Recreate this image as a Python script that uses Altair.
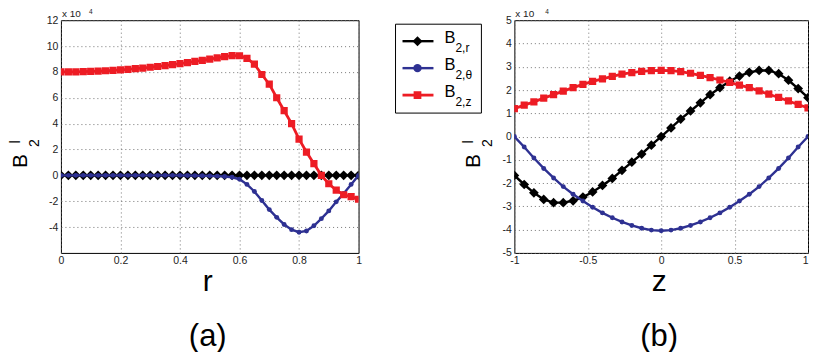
import altair as alt
import pandas as pd

FONT = "Liberation Sans"

# ---------------- data: panel (a) ----------------
r_vals = [0.0, 0.025, 0.05, 0.075, 0.1, 0.125, 0.15, 0.175, 0.2, 0.225, 0.25,
          0.275, 0.3, 0.325, 0.35, 0.375, 0.4, 0.425, 0.45, 0.475, 0.5, 0.525,
          0.55, 0.575, 0.6, 0.625, 0.65, 0.675, 0.7, 0.725, 0.75, 0.775, 0.8,
          0.825, 0.85, 0.875, 0.9, 0.925, 0.95, 0.975, 1.0]
a_B2r = [0.0, 0.0, 0.0, 0.0, 0.0, 0.0, 0.0, 0.0, 0.0, 0.0, 0.0,
         0.0, 0.0, 0.0, 0.0, 0.0, 0.0, 0.0, 0.0, 0.0, 0.0, 0.0,
         0.0, 0.0, 0.0, 0.0, 0.0, 0.0, 0.0, 0.0, 0.0, 0.0, 0.0,
         0.0, 0.0, 0.0, 0.0, 0.0, 0.0, 0.0, 0.0]
a_B2t = [0.0, 0.0, 0.0, 0.0, 0.0, 0.0, 0.0, 0.0, 0.0, 0.0, 0.0,
         0.0, 0.0, 0.0, 0.0, 0.0, 0.0, -0.01, -0.02, -0.03, -0.04, -0.06,
         -0.09, -0.15, -0.3, -0.7, -1.25, -1.95, -2.65, -3.25, -3.8, -4.2, -4.4,
         -4.3, -3.9, -3.35, -2.75, -2.05, -1.4, -0.7, 0.0]
a_B2z = [8.00, 8.00, 8.01, 8.02, 8.04, 8.06, 8.09, 8.12, 8.16, 8.20, 8.25,
         8.30, 8.36, 8.42, 8.49, 8.56, 8.64, 8.72, 8.81, 8.90, 8.99, 9.09,
         9.18, 9.26, 9.25, 9.05, 8.60, 7.80, 7.05, 6.00, 5.00, 4.00, 2.80,
         1.80, 0.90, 0.00, -0.65, -1.15, -1.50, -1.65, -1.85]
a_xticks = [0, 0.2, 0.4, 0.6, 0.8, 1]
a_yticks = [-4, -2, 0, 2, 4, 6, 8, 10, 12]

# ---------------- data: panel (b) ----------------
z_vals = [-1.0, -0.933, -0.867, -0.8, -0.733, -0.667, -0.6, -0.533, -0.467, -0.4,
          -0.333, -0.267, -0.2, -0.133, -0.067, 0.0, 0.067, 0.133, 0.2, 0.267,
          0.333, 0.4, 0.467, 0.533, 0.6, 0.667, 0.733, 0.8, 0.867, 0.933, 1.0]
b_B2r = [-1.67, -2.06, -2.42, -2.70, -2.84, -2.84, -2.76, -2.60, -2.38, -2.10,
         -1.80, -1.45, -1.10, -0.75, -0.37, 0.0, 0.37, 0.75, 1.10, 1.45,
         1.80, 2.10, 2.38, 2.60, 2.76, 2.84, 2.84, 2.70, 2.42, 2.06, 1.67]
b_B2t = [0.0, -0.45, -0.92, -1.37, -1.78, -2.15, -2.48, -2.77, -3.04, -3.28,
         -3.49, -3.67, -3.82, -3.94, -4.02, -4.05, -4.02, -3.94, -3.82, -3.67,
         -3.49, -3.28, -3.04, -2.77, -2.48, -2.15, -1.78, -1.37, -0.92, -0.45, 0.0]
b_B2z = [1.20, 1.35, 1.49, 1.65, 1.80, 1.95, 2.10, 2.24, 2.37, 2.48,
         2.59, 2.68, 2.75, 2.80, 2.83, 2.84, 2.83, 2.79, 2.72, 2.63,
         2.53, 2.43, 2.33, 2.21, 2.10, 1.96, 1.82, 1.68, 1.53, 1.38, 1.23]
b_xticks = [-1, -0.5, 0, 0.5, 1]
b_yticks = [-5, -4, -3, -2, -1, 0, 1, 2, 3, 4, 5]

series_keys = ["B2r", "B2t", "B2z"]
legend_subs = ["2,r", "2,θ", "2,z"]

BLACK = "#000000"
BLUE = "#2e3192"
RED = "#ed1c24"
# key, color, shape, size(plot), size(legend), line width
STYLES = [
    ("B2r", BLACK, "diamond", 95, 100, 2.4),
    ("B2t", BLUE, "circle", 24, 70, 2.4),
    ("B2z", RED, "square", 52, 60, 2.8),
]

H = 233
one = pd.DataFrame({"k": [0]})


def txt(s, x, y, size, angle=0, align="left", baseline="alphabetic", color="#000"):
    kw = dict(text=s, font=FONT, fontSize=size, align=align, baseline=baseline, color=color)
    if angle:
        kw["angle"] = angle
    return alt.Chart(one).mark_text(**kw).encode(x=alt.value(x), y=alt.value(y))


def axis(vals, flush_last=None):
    kw = dict(values=vals, title=None, grid=True, ticks=False, domain=False,
              labelExpr="'' + datum.value", labelFont=FONT, labelFontSize=10.5,
              labelColor="#222", labelPadding=3, gridDash=[1, 3],
              gridColor="#666", gridWidth=0.9, labelFlush=False, labelOverlap=False)
    if flush_last is not None:
        kw["labelAlign"] = {"condition": {"test": "datum.value == %s" % flush_last,
                                          "value": "right"}, "value": "center"}
    return alt.Axis(**kw)


def panel(xs, data, xdom, xticks, ydom, yticks, xtitle, tag, exp_x, w, flush_last=None):
    rows = []
    for key, vals in zip(series_keys, data):
        for xv, yv in zip(xs, vals):
            rows.append({"x": xv, "y": yv, "s": key})
    df = pd.DataFrame(rows)
    X = alt.X("x:Q", scale=alt.Scale(domain=xdom, nice=False, zero=False),
              axis=axis(xticks, flush_last))
    Y = alt.Y("y:Q", scale=alt.Scale(domain=ydom, nice=False, zero=False), axis=axis(yticks))
    layers = []
    for key, color, shape, size, _, sw in STYLES:
        base = alt.Chart(df).transform_filter(alt.datum.s == key)
        layers.append(base.mark_line(color=color, strokeWidth=sw, clip=True).encode(x=X, y=Y))
        layers.append(base.mark_point(shape=shape, size=size, filled=True, color=color,
                                      opacity=1, clip=True).encode(x=X, y=Y))
    # y title  B^l_2 (rotated)
    layers.append(txt("B", -34, 141, 21, angle=270, align="center"))
    layers.append(txt("l", -41, 122, 14, angle=270, align="center"))
    layers.append(txt("2", -22, 123, 14, angle=270, align="center"))
    # exponent annotation
    layers.append(txt("x 10", 1, -3, 10, color="#222"))
    layers.append(txt("4", exp_x, -6, 6.5, color="#222"))
    # x title and panel tag
    mid = w / 2
    layers.append(txt(xtitle, mid - 2, 271, 30, align="center"))
    layers.append(txt(tag, mid - 2, 326, 31, align="center"))
    return layers


WL, WR = 298, 294
left_layers = panel(r_vals, [a_B2r, a_B2t, a_B2z], [0, 1], a_xticks, [-6, 12], a_yticks,
                    "r", "(a)", 28, WL)
right_layers = panel(z_vals, [b_B2r, b_B2t, b_B2z], [-1, 1], b_xticks, [-5, 5], b_yticks,
                     "z", "(b)", 31, WR, flush_last=1)

# legend (drawn in the right panel, to the left of its plot area)
leg = [alt.Chart(one).mark_rect(fill="white", stroke="black", strokeWidth=1).encode(
    x=alt.value(-119), x2=alt.value(-33), y=alt.value(4), y2=alt.value(93))]
for i, (key, color, shape, _, lsize, sw) in enumerate(STYLES):
    yy = 21 + 27 * i
    leg.append(alt.Chart(one).mark_rule(color=color, strokeWidth=sw).encode(
        x=alt.value(-112), x2=alt.value(-81), y=alt.value(yy)))
    leg.append(alt.Chart(one).mark_point(shape=shape, size=lsize, filled=True, color=color,
                                         opacity=1).encode(x=alt.value(-97), y=alt.value(yy)))
    leg.append(txt("B", -70, yy + 2, 16.5))
    leg.append(txt(legend_subs[i], -59, yy + 11, 12))

left = alt.layer(*left_layers).properties(width=WL, height=H)
right = alt.layer(*(right_layers + leg)).properties(width=WR, height=H)

chart = alt.hconcat(left, right, spacing=32).properties(padding=0, background="white").configure_view(
    stroke="black", strokeWidth=1)

chart.save("out.html", embed_options={"renderer": "svg", "actions": False})
